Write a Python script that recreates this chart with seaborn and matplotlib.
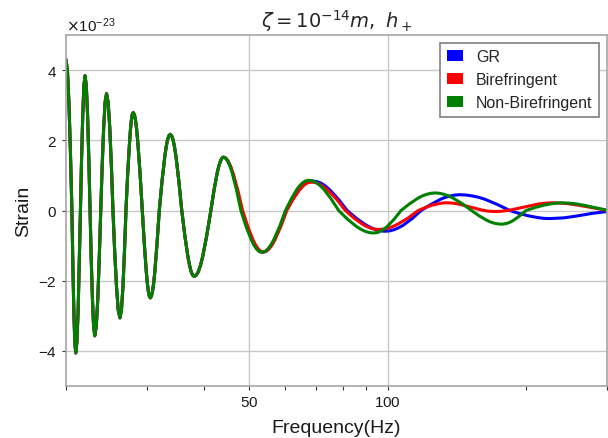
import numpy as np
import pandas as pd
import matplotlib
matplotlib.use('Agg')
import matplotlib.pyplot as plt
from matplotlib.patches import Patch
from matplotlib.ticker import FixedLocator, LogLocator, ScalarFormatter, NullFormatter
import seaborn as sns

# values, strain in units of 1e-23
# 20-44 Hz: the three curves lie on top of each other
freq_early = [20.0, 20.15, 20.30, 20.45, 20.6, 20.70, 20.80, 20.90, 21.0, 21.12, 21.25, 21.37,
              21.5, 21.62, 21.75, 21.87, 22.0, 22.14, 22.28, 22.42, 22.56, 22.69, 22.83, 22.96,
              23.1, 23.27, 23.45, 23.62, 23.8, 23.97, 24.15, 24.32, 24.5, 24.70, 24.90, 25.10,
              25.3, 25.52, 25.75, 25.97, 26.2, 26.40, 26.60, 26.80, 27.0,
              27.24, 27.50, 27.62, 27.75, 27.87, 28.0, 28.16, 28.32, 28.48, 28.64, 28.97, 29.3,
              29.60, 29.90, 30.05, 30.20, 30.35, 30.5, 30.67, 30.84, 31.02, 31.19, 31.54, 31.9,
              32.34, 32.79, 33.01, 33.24, 33.47, 33.7, 33.94, 34.19, 34.44, 34.69, 35.19, 35.7,
              36.26, 36.83, 37.12, 37.41, 37.70, 38.0, 38.40, 38.80, 39.21, 39.62, 40.45, 41.3,
              41.96, 42.63, 42.97, 43.31, 43.65, 44.0]
strain_early = [4.30, 3.97, 3.04, 1.65, 0.0, -1.55, -2.87, -3.75, -4.06, -3.75, -2.87, -1.55,
                0.0, 1.47, 2.72, 3.55, 3.84, 3.55, 2.72, 1.47, 0.0, -1.37, -2.52, -3.30,
                -3.57, -3.30, -2.52, -1.37, 0.0, 1.28, 2.35, 3.08, 3.33, 3.08, 2.35, 1.28,
                0.0, -1.17, -2.16, -2.83, -3.06, -2.83, -2.16, -1.17, 0.0,
                1.07, 1.97, 2.32, 2.58, 2.74, 2.79, 2.74, 2.58, 2.32, 1.97, 1.07, 0.0,
                -0.95, -1.76, -2.07, -2.30, -2.44, -2.49, -2.44, -2.30, -2.07, -1.76, -0.95, 0.0,
                0.83, 1.53, 1.80, 2.01, 2.13, 2.17, 2.13, 2.01, 1.80, 1.53, 0.83, 0.0,
                -0.72, -1.33, -1.56, -1.74, -1.84, -1.88, -1.84, -1.74, -1.56, -1.33, -0.72, 0.0,
                0.58, 1.07, 1.26, 1.40, 1.49, 1.52]

freq_gr_tail = [44.50, 45.01, 45.53, 46.05, 47.11, 48.2,
                49.47, 50.78, 51.44, 52.12, 52.81, 53.5,
                54.30, 55.10, 55.92, 56.75, 58.45, 60.2,
                62.19, 64.26, 65.32, 66.40, 67.49, 68.6,
                70.12, 71.67, 73.25, 74.86, 78.21, 81.7,
                85.70, 89.89, 92.06, 94.29, 96.57, 98.9,
                101.14, 103.43, 105.77, 108.16, 113.13, 118.3,
                124.19, 130.38, 133.59, 136.87, 140.24, 143.7,
                148.27, 152.98, 157.84, 162.82, 173.36, 184.5,
                193.86, 203.74, 214.11, 219.47, 225.0,
                241.8, 259.8, 279.2, 300.0]
strain_gr_tail = [1.49, 1.40, 1.26, 1.07, 0.58, 0.0,
                  -0.46, -0.84, -0.99, -1.10, -1.17, -1.19,
                  -1.17, -1.10, -0.99, -0.84, -0.46, 0.0,
                  0.32, 0.59, 0.70, 0.78, 0.825, 0.84,
                  0.825, 0.78, 0.70, 0.59, 0.32, 0.0,
                  -0.23, -0.42, -0.49, -0.545, -0.58, -0.59,
                  -0.58, -0.545, -0.49, -0.42, -0.23, 0.0,
                  0.17, 0.32, 0.375, 0.415, 0.44, 0.45,
                  0.44, 0.415, 0.375, 0.32, 0.17, 0.0,
                  -0.09, -0.16, -0.21, -0.225, -0.23,
                  -0.21, -0.15, -0.08, -0.03]

freq_bi_tail = [44.53, 45.06, 45.60, 46.15, 47.27, 48.4,
                49.67, 50.98, 51.65, 52.33, 53.01, 53.7,
                54.50, 55.30, 56.12, 56.95, 58.65, 60.4,
                62.27, 64.20, 65.19, 66.20, 67.22, 68.25,
                69.73, 71.24, 72.78, 74.35, 77.63, 81.0,
                84.43, 88.00, 89.84, 91.72, 93.64, 95.6,
                98.00, 100.47, 103.0, 105.58, 110.95, 116.6,
                120.84, 125.24, 129.79, 132.12, 134.5,
                138.59, 142.80, 151.66, 161.09, 165.99, 171.0,
                177.34, 183.86, 197.67, 212.51, 220.35, 228.5,
                244.6, 261.8, 280.3, 300.0]
strain_bi_tail = [1.49, 1.40, 1.26, 1.07, 0.58, 0.0,
                  -0.45, -0.83, -0.98, -1.09, -1.16, -1.18,
                  -1.16, -1.09, -0.98, -0.83, -0.45, 0.0,
                  0.31, 0.57, 0.67, 0.75, 0.795, 0.81,
                  0.795, 0.75, 0.67, 0.57, 0.31, 0.0,
                  -0.21, -0.38, -0.45, -0.50, -0.53, -0.54,
                  -0.53, -0.50, -0.45, -0.38, -0.21, 0.0,
                  0.085, 0.155, 0.20, 0.215, 0.22,
                  0.21, 0.183, 0.095, 0.007, -0.02, -0.03,
                  -0.02, 0.007, 0.095, 0.183, 0.21, 0.22,
                  0.20, 0.145, 0.075, 0.0]

freq_nb_tail = [44.48, 44.97, 45.46, 45.96, 46.97, 48.0,
                49.27, 50.58, 51.24, 51.92, 52.61, 53.3,
                54.10, 54.90, 55.72, 56.55, 58.25, 60.0,
                61.77, 63.59, 64.52, 65.46, 66.43, 67.4,
                68.67, 69.97, 71.29, 72.64, 75.41, 78.3,
                81.81, 85.47, 87.37, 89.30, 91.28, 93.3,
                94.91, 96.55, 98.22, 99.92, 103.40, 107.0,
                111.63, 116.48, 118.98, 121.53, 124.14, 126.8,
                129.74, 132.74, 135.81, 138.96, 145.48, 152.3,
                158.11, 164.14, 167.23, 170.40, 173.62, 176.9,
                179.62, 182.40, 185.23, 188.08, 193.93, 200.0,
                209.33, 219.09, 229.31, 234.60, 240.0,
                253.8, 268.3, 283.8, 300.0]
strain_nb_tail = [1.49, 1.40, 1.26, 1.07, 0.58, 0.0,
                  -0.46, -0.84, -0.99, -1.10, -1.17, -1.19,
                  -1.17, -1.10, -0.99, -0.84, -0.46, 0.0,
                  0.33, 0.61, 0.715, 0.795, 0.845, 0.86,
                  0.845, 0.795, 0.715, 0.61, 0.33, 0.0,
                  -0.245, -0.45, -0.53, -0.59, -0.63, -0.64,
                  -0.63, -0.59, -0.53, -0.45, -0.245, 0.0,
                  0.19, 0.35, 0.415, 0.46, 0.49, 0.50,
                  0.49, 0.46, 0.415, 0.35, 0.19, 0.0,
                  -0.15, -0.275, -0.325, -0.36, -0.38, -0.39,
                  -0.38, -0.36, -0.325, -0.275, -0.15, 0.0,
                  0.085, 0.155, 0.20, 0.215, 0.22,
                  0.20, 0.145, 0.075, 0.01]

models = ['GR', 'Birefringent', 'Non-Birefringent']
colors = {'GR': 'blue', 'Birefringent': 'red', 'Non-Birefringent': 'green'}

tails = {'GR': (freq_gr_tail, strain_gr_tail),
         'Birefringent': (freq_bi_tail, strain_bi_tail),
         'Non-Birefringent': (freq_nb_tail, strain_nb_tail)}

frames = []
for m in models:
    f_tail, s_tail = tails[m]
    frames.append(pd.DataFrame({'freq': freq_early + f_tail,
                                'strain': np.array(strain_early + s_tail) * 1e-23,
                                'model': m}))
df = pd.concat(frames, ignore_index=True)

sns.set_style('whitegrid', {'axes.edgecolor': '0.65', 'grid.color': '0.8',
                            'xtick.bottom': True, 'ytick.left': True})
plt.rcParams['font.family'] = ['Liberation Sans', 'DejaVu Sans']
plt.rcParams['axes.formatter.use_mathtext'] = True

fig = plt.figure(figsize=(6.08, 4.39), dpi=100)
ax = fig.add_axes([66 / 608, 1 - 387 / 439, 541 / 608, 351 / 439])

sns.lineplot(data=df, x='freq', y='strain', hue='model', hue_order=models,
             palette=colors, estimator=None, sort=False, lw=2.2, legend=False, ax=ax)

ax.set_xscale('log')
ax.set_xlim(20, 300)
ax.set_ylim(-5e-23, 5e-23)
ax.set_yticks([-4e-23, -2e-23, 0, 2e-23, 4e-23])
ax.xaxis.set_major_locator(FixedLocator([50, 100]))
ax.xaxis.set_major_formatter(ScalarFormatter())
ax.xaxis.set_minor_locator(LogLocator(base=10, subs=np.arange(2, 10)))
ax.xaxis.set_minor_formatter(NullFormatter())
ax.grid(True, which='major', color='0.78', lw=1)
ax.grid(False, which='minor')
ax.tick_params(axis='both', which='both', length=3, width=0.8, color='0.2',
               labelsize=11, labelcolor='0.1')
ax.yaxis.get_offset_text().set_fontsize(11)
for s in ax.spines.values():
    s.set_linewidth(1.2)

ax.set_xlabel('Frequency(Hz)', fontsize=14, color='0.1', labelpad=7)
ax.set_ylabel('Strain', fontsize=14, color='0.1')
ax.set_title(r'$\zeta = 10^{-14}m,\ h_+$', fontsize=14)

handles = [Patch(facecolor=colors[m], edgecolor='none', label=m) for m in models]
leg = ax.legend(handles=handles, loc='upper right', fontsize=11.5, fancybox=False,
                framealpha=1, edgecolor='0.5', handlelength=1.05, handleheight=0.65)
leg.get_frame().set_linewidth(1.2)

plt.savefig('out.png', dpi=100)
